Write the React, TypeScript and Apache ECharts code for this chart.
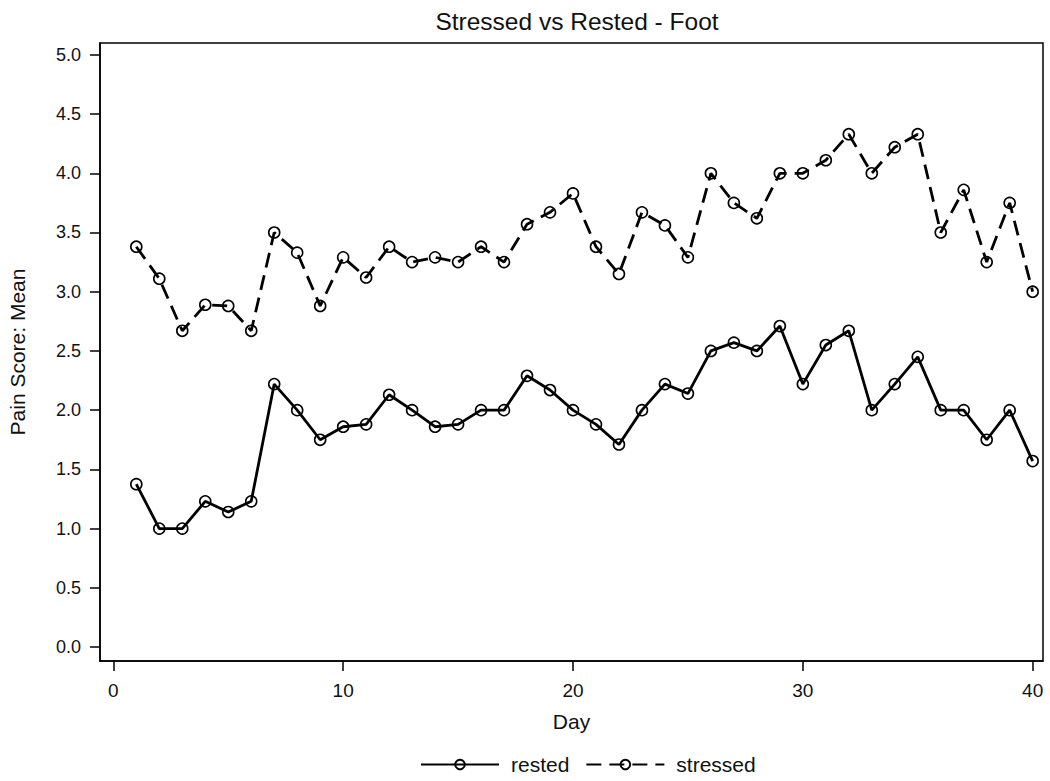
import React, { useEffect, useRef } from "react";
import * as echarts from "echarts";

const days = [1, 2, 3, 4, 5, 6, 7, 8, 9, 10, 11, 12, 13, 14, 15, 16, 17, 18, 19, 20, 21, 22, 23, 24, 25, 26, 27, 28, 29, 30, 31, 32, 33, 34, 35, 36, 37, 38, 39, 40];
const rested = [1.375, 1.0, 1.0, 1.23, 1.14, 1.23, 2.22, 2.0, 1.75, 1.86, 1.88, 2.13, 2.0, 1.86, 1.88, 2.0, 2.0, 2.29, 2.17, 2.0, 1.88, 1.71, 2.0, 2.22, 2.14, 2.5, 2.57, 2.5, 2.71, 2.22, 2.55, 2.67, 2.0, 2.22, 2.45, 2.0, 2.0, 1.75, 2.0, 1.57];
const stressed = [3.38, 3.11, 2.67, 2.89, 2.88, 2.67, 3.5, 3.33, 2.88, 3.29, 3.12, 3.38, 3.25, 3.29, 3.25, 3.38, 3.25, 3.57, 3.67, 3.83, 3.38, 3.15, 3.67, 3.56, 3.29, 4.0, 3.75, 3.62, 4.0, 4.0, 4.11, 4.33, 4.0, 4.22, 4.33, 3.5, 3.86, 3.25, 3.75, 3.0];
const xTicks = [0, 10, 20, 30, 40];
const yTicks = [0, 0.5, 1, 1.5, 2, 2.5, 3, 3.5, 4, 4.5, 5];

const FONT = "'Liberation Sans', Arial, sans-serif";
const INK = "#111";

export default function App() {
  const ref = useRef<HTMLDivElement>(null);
  useEffect(() => {
    if (!ref.current) return;
    const chart = echarts.init(ref.current, undefined, { renderer: "svg" });
    const mk = (vals: number[]) => days.map((d, i) => [d, vals[i]]);
    const symStyle = { color: "transparent", borderColor: "#000", borderWidth: 1.6 };
    chart.setOption({
      animation: false,
      backgroundColor: "#fff",
      title: {
        text: "Stressed vs Rested - Foot",
        left: 572,
        textAlign: "center",
        top: 4,
        textStyle: { fontFamily: FONT, fontSize: 24.5, fontWeight: "normal", color: INK },
      },
      grid: {
        left: 100,
        right: 7,
        top: 43,
        bottom: 120,
        show: true,
        borderColor: "#000",
        borderWidth: 1.5,
        backgroundColor: "transparent",
        outerBoundsMode: "none",
        containLabel: false,
      },
      legend: {
        left: 420,
        top: 754,
        padding: 0,
        itemWidth: 78,
        itemHeight: 12,
        itemGap: 16,
        textStyle: { fontFamily: FONT, fontSize: 21, color: INK, padding: [0, 0, 0, 7] },
        data: ["rested", "stressed"],
      },
      xAxis: {
        type: "value",
        min: -0.58,
        max: 40.45,
        name: "Day",
        nameLocation: "middle",
        nameGap: 50,
        nameTextStyle: { fontFamily: FONT, fontSize: 21, color: INK },
        axisLine: { show: true, onZero: false, lineStyle: { color: "#000", width: 1.5 } },
        axisTick: { show: true, length: 10, customValues: xTicks, lineStyle: { color: "#000", width: 1.5 } },
        axisLabel: { customValues: xTicks, margin: 20, fontFamily: FONT, fontSize: 19, color: INK },
        splitLine: { show: false },
      },
      yAxis: {
        type: "value",
        min: -0.118,
        max: 5.1,
        name: "Pain Score: Mean",
        nameLocation: "middle",
        nameGap: 72,
        nameTextStyle: { fontFamily: FONT, fontSize: 21, color: INK },
        axisLine: { show: true, onZero: false, lineStyle: { color: "#000", width: 1.5 } },
        axisTick: { show: true, length: 10, customValues: yTicks, lineStyle: { color: "#000", width: 1.5 } },
        axisLabel: {
          customValues: yTicks,
          margin: 19,
          fontFamily: FONT,
          fontSize: 18,
          color: INK,
          formatter: (v: number) => v.toFixed(1),
        },
        splitLine: { show: false },
      },
      series: [
        {
          name: "rested",
          type: "line",
          data: mk(rested),
          symbol: "circle",
          symbolSize: 11,
          showAllSymbol: true,
          itemStyle: symStyle,
          lineStyle: { color: "#000", width: 2.8, type: "solid" },
        },
        {
          name: "stressed",
          type: "line",
          data: mk(stressed),
          symbol: "circle",
          symbolSize: 11,
          showAllSymbol: true,
          itemStyle: symStyle,
          lineStyle: { color: "#000", width: 2.8, type: [15, 8] },
        },
      ],
    });
    return () => chart.dispose();
  }, []);
  return <div ref={ref} style={{ position: "fixed", left: 0, top: 0, width: 1050, height: 781 }} />;
}
